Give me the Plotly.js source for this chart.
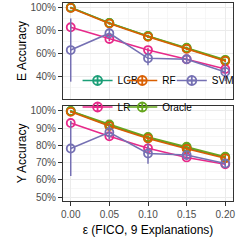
<!DOCTYPE html>
<html>
<head>
<meta charset="utf-8">
<script src="https://cdn.plot.ly/plotly-3.0.1.min.js"></script>
<style>html,body{margin:0;padding:0;background:#fff;}#chart{width:242px;height:242px;}</style>
</head>
<body>
<div id="chart"></div>
<script>
// x values
const eps = [0.00, 0.05, 0.10, 0.15, 0.20];
const xTickVals = [0.00, 0.05, 0.10, 0.15, 0.20];
const xTickText = ["0.00", "0.05", "0.10", "0.15", "0.20"];

// series names and colours
const models = ["LGB", "LR", "Oracle", "RF", "SVM"];
const legendOrder = ["LGB", "RF", "SVM", "LR", "Oracle"];
const colors = {LGB: "#1b9e77", RF: "#d95f02", SVM: "#7570b3", LR: "#e7298a", Oracle: "#66a61e"};

// E Accuracy (%) — top panel
const eLGB    = [100.0, 86.5, 75.0, 64.5, 54.0];
const eLR     = [82.8, 72.6, 63.0, 55.0, 46.5];
const eOracle = [100.0, 86.5, 75.2, 65.0, 54.5];
const eRF     = [99.6, 86.0, 74.5, 64.0, 53.5];
const eSVM    = [63.0, 77.6, 55.8, 55.0, 44.0];
const eLGBerr    = [0.5, 1.0, 1.0, 1.0, 1.0];
const eLRerr     = [2.0, 2.0, 2.0, 2.0, 2.5];
const eOracleerr = [0.3, 1.0, 1.0, 1.0, 1.0];
const eRFerr     = [0.5, 1.0, 1.0, 1.0, 1.0];
const eSVMerr    = [27.5, 4.5, 6.0, 3.0, 8.0];

// Y Accuracy (%) — bottom panel
const yLGB    = [100.0, 91.5, 84.5, 78.5, 73.0];
const yLR     = [93.0, 85.3, 78.3, 73.0, 69.0];
const yOracle = [100.0, 92.2, 84.9, 79.2, 73.4];
const yRF     = [99.5, 91.2, 84.0, 78.0, 72.5];
const ySVM    = [78.2, 87.6, 75.3, 74.4, 69.5];
const yLGBerr    = [0.3, 1.0, 1.0, 1.0, 1.0];
const yLRerr     = [1.0, 1.5, 1.5, 1.5, 1.0];
const yOracleerr = [0.3, 1.0, 1.0, 1.0, 1.0];
const yRFerr     = [0.5, 1.0, 1.0, 1.0, 1.0];
const ySVMerr    = [16.0, 4.0, 6.0, 2.5, 2.0];

// y tick values / labels
const eTickVals = [40, 60, 80, 100];
const eTickText = ["40%", "60%", "80%", "100%"];
const yTickVals = [50, 60, 70, 80, 90, 100];
const yTickText = ["50%", "60%", "70%", "80%", "90%", "100%"];

const eData = {LGB: [eLGB, eLGBerr], LR: [eLR, eLRerr], Oracle: [eOracle, eOracleerr], RF: [eRF, eRFerr], SVM: [eSVM, eSVMerr]};
const yData = {LGB: [yLGB, yLGBerr], LR: [yLR, yLRerr], Oracle: [yOracle, yOracleerr], RF: [yRF, yRFerr], SVM: [ySVM, ySVMerr]};

const traces = [];
function addPanel(data, xa, ya) {
  models.forEach(m => {
    traces.push({
      type: "scatter", mode: "lines+markers",
      x: eps, y: data[m][0], xaxis: xa, yaxis: ya,
      showlegend: false, name: m,
      line: {color: colors[m], width: 1.6},
      marker: {symbol: "circle-open", size: 8, color: colors[m], line: {width: 1.8, color: colors[m]}},
      error_y: {type: "data", array: data[m][1], visible: true, width: 0, thickness: 1.5, color: colors[m]}
    });
  });
}
addPanel(eData, "x2", "y2");
addPanel(yData, "x", "y");

// legend-only traces, one legend box per entry (3 columns x 2 rows)
const legendIds = ["legend", "legend2", "legend3", "legend4", "legend5"];
legendOrder.forEach((m, i) => {
  traces.push({
    type: "scatter", mode: "lines+markers",
    x: [null], y: [null], xaxis: "x", yaxis: "y",
    name: m, showlegend: true, legend: legendIds[i],
    line: {color: colors[m], width: 1.6},
    marker: {symbol: "circle-cross-open", size: 9, color: colors[m], line: {width: 1.8, color: colors[m]}}
  });
});

const tickFont = {family: "Liberation Sans, Arial, sans-serif", size: 10, color: "#4d4d4d"};
const titleFont = {family: "Liberation Sans, Arial, sans-serif", size: 12, color: "#000000"};
const legendFont = {family: "Liberation Sans, Arial, sans-serif", size: 10, color: "#000000"};
const gridStyle = {
  showgrid: true, gridcolor: "#ebebeb", gridwidth: 1,
  showline: true, mirror: true, linecolor: "#333333", linewidth: 1,
  zeroline: false
};
function leg(xpx, ypx) {
  return {
    orientation: "h", x: (xpx - 63) / 175, xanchor: "left",
    y: (201 - ypx) / 198, yanchor: "middle",
    bgcolor: "rgba(255,255,255,0)", borderwidth: 0, font: legendFont, itemwidth: 30
  };
}

const layout = {
  width: 242, height: 242,
  margin: {l: 63, r: 4, t: 3, b: 41},
  paper_bgcolor: "#ffffff", plot_bgcolor: "#ffffff",
  font: {family: "Liberation Sans, Arial, sans-serif"},
  xaxis: Object.assign({}, gridStyle, {
    domain: [0, 1], anchor: "y", range: [-0.01, 0.21], automargin: false,
    tickvals: xTickVals, ticktext: xTickText,
    ticks: "outside", ticklen: 4, tickcolor: "#333333", tickwidth: 1,
    tickfont: tickFont,
    minor: {dtick: 0.025, tick0: 0.025, showgrid: true, gridcolor: "#f2f2f2", gridwidth: 0.6},
    title: {text: "ε (FICO, 9 Explanations)", font: titleFont, standoff: 6}
  }),
  xaxis2: Object.assign({}, gridStyle, {
    domain: [0, 1], anchor: "y2", matches: "x", range: [-0.01, 0.21], automargin: false,
    tickvals: xTickVals, showticklabels: false, ticks: "",
    minor: {dtick: 0.025, tick0: 0.025, showgrid: true, gridcolor: "#f2f2f2", gridwidth: 0.6}
  }),
  yaxis: Object.assign({}, gridStyle, {
    domain: [0, 0.48], anchor: "x", range: [47.7, 102.9], automargin: true,
    tickvals: yTickVals, ticktext: yTickText,
    ticks: "outside", ticklen: 4, tickcolor: "#333333", tickwidth: 1,
    tickfont: tickFont,
    minor: {dtick: 5, tick0: 45, showgrid: true, gridcolor: "#f2f2f2", gridwidth: 0.6},
    title: {text: "Y Accuracy", font: titleFont, standoff: 1}
  }),
  yaxis2: Object.assign({}, gridStyle, {
    domain: [0.515, 1], anchor: "x2", range: [20.4, 103.9], automargin: true,
    tickvals: eTickVals, ticktext: eTickText,
    ticks: "outside", ticklen: 4, tickcolor: "#333333", tickwidth: 1,
    tickfont: tickFont,
    minor: {dtick: 10, tick0: 30, showgrid: true, gridcolor: "#f2f2f2", gridwidth: 0.6},
    title: {text: "E Accuracy", font: titleFont, standoff: 1}
  }),
  legend: leg(78, 80.5),
  legend2: leg(124, 80.5),
  legend3: leg(175, 80.5),
  legend4: leg(78, 107),
  legend5: leg(124, 107),
  showlegend: true
};

Plotly.newPlot("chart", traces, layout, {displayModeBar: false, staticPlot: true});
</script>
</body>
</html>
